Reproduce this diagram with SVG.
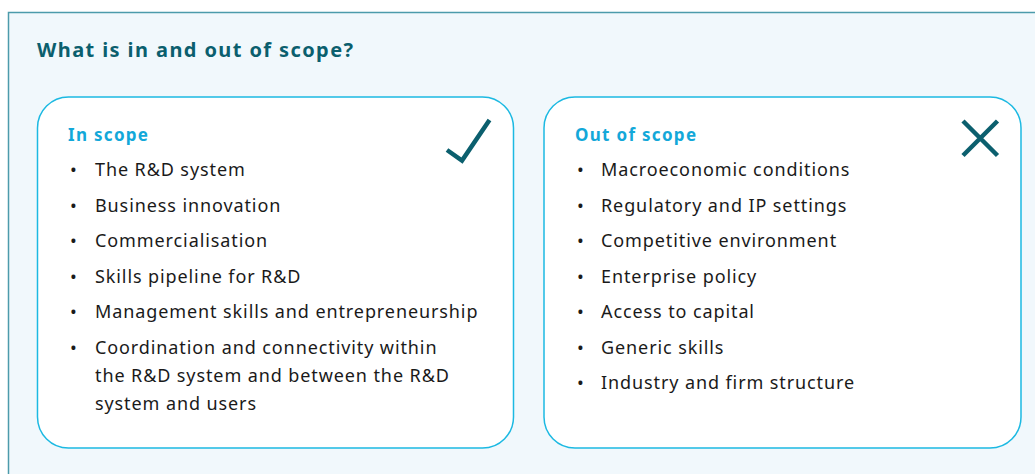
<svg xmlns="http://www.w3.org/2000/svg" width="1035" height="474" viewBox="0 0 1035 474">
<style>
.frame{fill:#f1f8fc;stroke:#4c9bab;stroke-width:1.5}
.card{fill:#ffffff;stroke:#1cb9e2;stroke-width:1.5}
.title{font-family:"Noto Sans","Open Sans",sans-serif;font-weight:bold;font-size:20px;letter-spacing:1.4px;fill:#0b5f6e}
.head{font-family:"Noto Sans","Open Sans",sans-serif;font-weight:bold;font-size:17px;letter-spacing:1.3px;fill:#13a8d9}
.item{font-family:"Noto Sans","Open Sans",sans-serif;font-size:18px;letter-spacing:0.9px;fill:#1a1a1a}
.icon{fill:none;stroke:#0b5f6e;stroke-width:4.5}
</style>
<rect class="frame" x="8.5" y="12.5" width="1040" height="480"/>
<text class="title" x="37" y="57">What is in and out of scope?</text>
<g id="in-scope">
<rect class="card" x="37.5" y="97" width="476" height="351" rx="31"/>
<text class="head" x="68" y="141">In scope</text>
<polyline class="icon" points="447,150 462,160.5 489.5,120"/>
<g class="item">
<text x="70" y="176">•</text><text x="95" y="176">The R&amp;D system</text>
<text x="70" y="212">•</text><text x="95" y="212">Business innovation</text>
<text x="70" y="247">•</text><text x="95" y="247">Commercialisation</text>
<text x="70" y="283">•</text><text x="95" y="283">Skills pipeline for R&amp;D</text>
<text x="70" y="318">•</text><text x="95" y="318">Management skills and entrepreneurship</text>
<text x="70" y="354">•</text><text x="95" y="354">Coordination and connectivity within</text>
<text x="95" y="382">the R&amp;D system and between the R&amp;D</text>
<text x="95" y="410">system and users</text>
</g>
</g>
<g id="out-of-scope">
<rect class="card" x="544" y="97" width="477" height="351" rx="31"/>
<text class="head" x="575" y="141">Out of scope</text>
<path class="icon" d="M963,121 L997.5,155.5 M997.5,121 L963,155.5"/>
<g class="item">
<text x="577" y="176">•</text><text x="601" y="176">Macroeconomic conditions</text>
<text x="577" y="212">•</text><text x="601" y="212">Regulatory and IP settings</text>
<text x="577" y="247">•</text><text x="601" y="247">Competitive environment</text>
<text x="577" y="283">•</text><text x="601" y="283">Enterprise policy</text>
<text x="577" y="318">•</text><text x="601" y="318">Access to capital</text>
<text x="577" y="354">•</text><text x="601" y="354">Generic skills</text>
<text x="577" y="389">•</text><text x="601" y="389">Industry and firm structure</text>
</g>
</g>
<g id="connectors"/>
</svg>
